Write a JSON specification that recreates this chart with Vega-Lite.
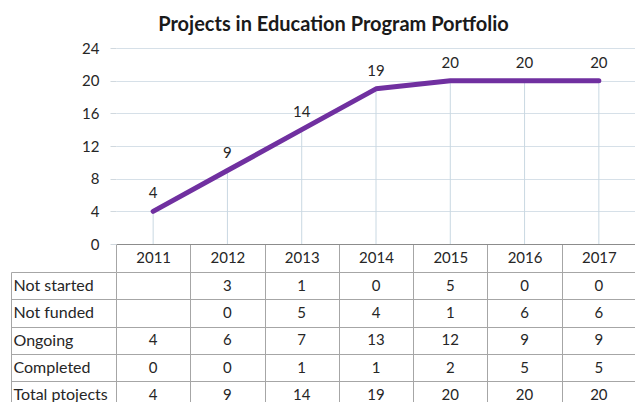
{
  "$schema": "https://vega.github.io/schema/vega-lite/v6.json",
  "padding": {"left": 10, "top": 15, "right": 0, "bottom": 0},
  "background": "white",
  "title": {"text": "Projects in Education Program Portfolio", "font": "Lato", "fontSize": 20, "fontWeight": "bold", "color": "#1a1a1a", "anchor": "middle", "offset": 6, "dx": 10},
  "config": {"view": {"stroke": null}, "font": "Lato"},
  "spacing": -9,
  "datasets": {
    "totals": [
      {"year": "2011", "total": 4},
      {"year": "2012", "total": 9},
      {"year": "2013", "total": 14},
      {"year": "2014", "total": 19},
      {"year": "2015", "total": 20},
      {"year": "2016", "total": 20},
      {"year": "2017", "total": 20}
    ],
    "table": [
      {"year": "2012", "status": "Not started", "count": 3},
      {"year": "2013", "status": "Not started", "count": 1},
      {"year": "2014", "status": "Not started", "count": 0},
      {"year": "2015", "status": "Not started", "count": 5},
      {"year": "2016", "status": "Not started", "count": 0},
      {"year": "2017", "status": "Not started", "count": 0},
      {"year": "2012", "status": "Not funded", "count": 0},
      {"year": "2013", "status": "Not funded", "count": 5},
      {"year": "2014", "status": "Not funded", "count": 4},
      {"year": "2015", "status": "Not funded", "count": 1},
      {"year": "2016", "status": "Not funded", "count": 6},
      {"year": "2017", "status": "Not funded", "count": 6},
      {"year": "2011", "status": "Ongoing", "count": 4},
      {"year": "2012", "status": "Ongoing", "count": 6},
      {"year": "2013", "status": "Ongoing", "count": 7},
      {"year": "2014", "status": "Ongoing", "count": 13},
      {"year": "2015", "status": "Ongoing", "count": 12},
      {"year": "2016", "status": "Ongoing", "count": 9},
      {"year": "2017", "status": "Ongoing", "count": 9},
      {"year": "2011", "status": "Completed", "count": 0},
      {"year": "2012", "status": "Completed", "count": 0},
      {"year": "2013", "status": "Completed", "count": 1},
      {"year": "2014", "status": "Completed", "count": 1},
      {"year": "2015", "status": "Completed", "count": 2},
      {"year": "2016", "status": "Completed", "count": 5},
      {"year": "2017", "status": "Completed", "count": 5},
      {"year": "2011", "status": "Total ptojects", "count": 4},
      {"year": "2012", "status": "Total ptojects", "count": 9},
      {"year": "2013", "status": "Total ptojects", "count": 14},
      {"year": "2014", "status": "Total ptojects", "count": 19},
      {"year": "2015", "status": "Total ptojects", "count": 20},
      {"year": "2016", "status": "Total ptojects", "count": 20},
      {"year": "2017", "status": "Total ptojects", "count": 20}
    ]
  },
  "vconcat": [
    {
      "width": 520,
      "height": 196,
      "data": {"name": "totals"},
      "encoding": {
        "x": {
          "field": "year", "type": "ordinal", "bandPosition": 0.5,
          "scale": {"type": "band", "paddingInner": 0, "paddingOuter": 0, "domain": ["2011","2012","2013","2014","2015","2016","2017"]},
          "axis": {"orient": "bottom", "title": null, "domain": true, "domainColor": "#8c8c8c", "ticks": true, "tickBand": "extent", "tickSize": 27.5, "tickColor": "#a6a6a6", "labelPadding": -21, "labelFontSize": 15, "labelFont": "Lato", "labelColor": "#262626", "labelAngle": 0, "grid": false}
        },
        "y": {
          "field": "total", "type": "quantitative",
          "scale": {"domain": [0, 24], "nice": false},
          "axis": {"title": null, "values": [0, 4, 8, 12, 16, 20, 24], "labelOverlap": false, "domain": false, "tickSize": 6, "tickColor": "#d0d8de", "grid": true, "gridColor": "#d6e0e8", "labelPadding": 11, "labelFontSize": 15, "labelFont": "Lato", "labelColor": "#262626"}
        }
      },
      "layer": [
        {
          "mark": {"type": "rule", "color": "#c9d8e2", "strokeWidth": 1},
          "encoding": {"y2": {"datum": 0}}
        },
        {
          "mark": {"type": "line", "color": "#7030a0", "strokeWidth": 5, "strokeCap": "round", "strokeJoin": "round"},
          "encoding": {}
        },
        {
          "mark": {"type": "text", "dy": -18, "fontSize": 15, "font": "Lato", "color": "#262626"},
          "encoding": {"text": {"field": "total", "type": "quantitative"}}
        }
      ]
    },
    {
      "width": 520,
      "height": 136.5,
      "data": {"name": "table"},
      "mark": {"type": "text", "fontSize": 15, "font": "Lato", "color": "#262626"},
      "encoding": {
        "x": {
          "field": "year", "type": "ordinal",
          "scale": {"type": "band", "paddingInner": 0, "paddingOuter": 0, "domain": ["2011","2012","2013","2014","2015","2016","2017"]},
          "axis": {"orient": "bottom", "title": null, "labels": false, "ticks": false, "domain": false, "grid": true, "tickBand": "extent", "gridColor": "#a6a6a6", "gridOpacity": 1}
        },
        "y": {
          "field": "status", "type": "nominal",
          "scale": {"type": "band", "paddingInner": 0, "paddingOuter": 0, "domain": ["Not started", "Not funded", "Ongoing", "Completed", "Total ptojects"]},
          "axis": {"title": null, "orient": "left", "offset": 105, "domain": true, "domainColor": "#a6a6a6", "ticks": true, "tickSize": -105, "tickColor": "#a6a6a6", "tickBand": "extent", "grid": true, "gridColor": "#a6a6a6", "gridOpacity": 1, "labelAlign": "left", "labelPadding": 103, "labelFontSize": 16, "labelFont": "Lato", "labelColor": "#262626"}
        },
        "text": {"field": "count", "type": "quantitative"}
      }
    }
  ]
}
